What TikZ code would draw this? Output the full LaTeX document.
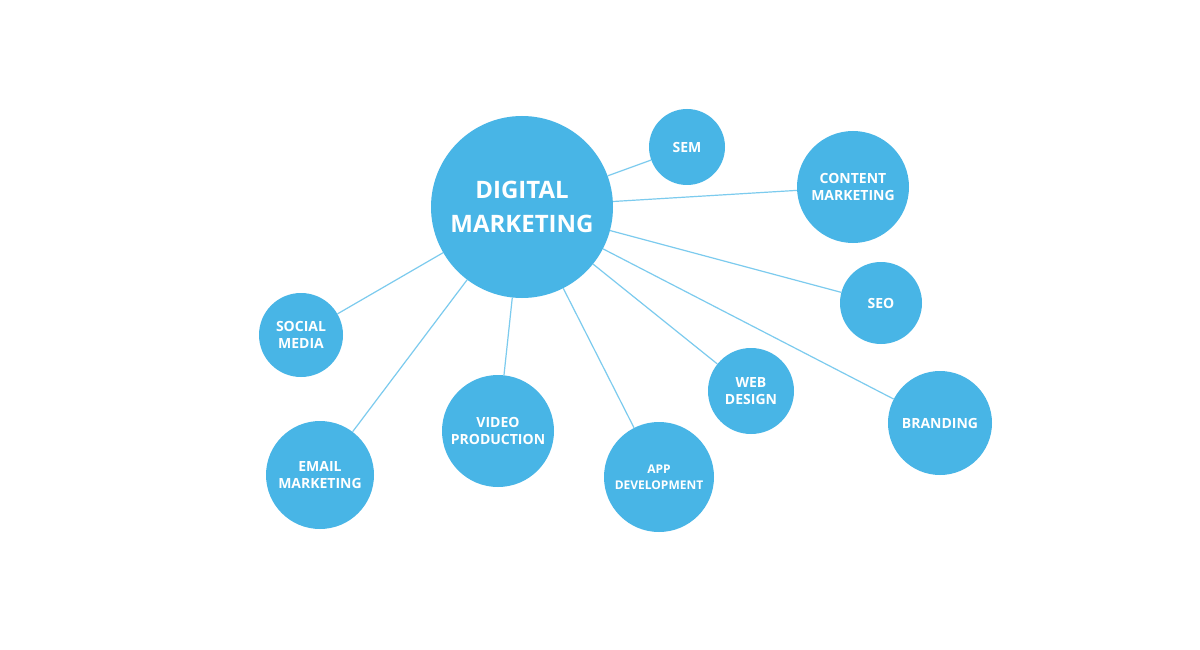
\documentclass[tikz,border=0pt]{standalone}
\usepackage{fontspec}
\setmainfont{Open Sans}
\definecolor{dmblue}{HTML}{48B5E6}
\definecolor{dmline}{HTML}{7CCBEE}
\begin{document}
\begin{tikzpicture}[x=1pt,y=-1pt,
  bub/.style={circle,fill=dmblue,text=white,inner sep=0pt,align=center,font=\bfseries\fontsize{14}{17}\selectfont},
  link/.style={draw=dmline,line width=1.2pt}]
\useasboundingbox[fill=white] (0,0) rectangle (1200,650);
\node[bub,minimum size=182pt,font=\bfseries\fontsize{24}{34}\selectfont] (dm) at (522,207) {DIGITAL\\MARKETING};
\node[bub,minimum size=76pt] (sem) at (687,147) {SEM};
\node[bub,minimum size=112pt] (cm) at (853,187) {CONTENT\\MARKETING};
\node[bub,minimum size=82pt] (seo) at (881,303) {SEO};
\node[bub,minimum size=104pt] (br) at (940,423) {BRANDING};
\node[bub,minimum size=86pt] (wd) at (751,391) {WEB\\DESIGN};
\node[bub,minimum size=110pt,font=\bfseries\fontsize{12}{16}\selectfont] (ad) at (659,477) {APP\\DEVELOPMENT};
\node[bub,minimum size=112pt] (vp) at (498,431) {VIDEO\\PRODUCTION};
\node[bub,minimum size=108pt] (em) at (320,475) {EMAIL\\MARKETING};
\node[bub,minimum size=84pt] (sm) at (301,335) {SOCIAL\\MEDIA};
\begin{scope}[on background layer/.style={}]
\end{scope}
\foreach \t in {sem,cm,seo,br,wd,ad,vp,em,sm}{\draw[link] (dm) -- (\t);}
\end{tikzpicture}
\end{document}
